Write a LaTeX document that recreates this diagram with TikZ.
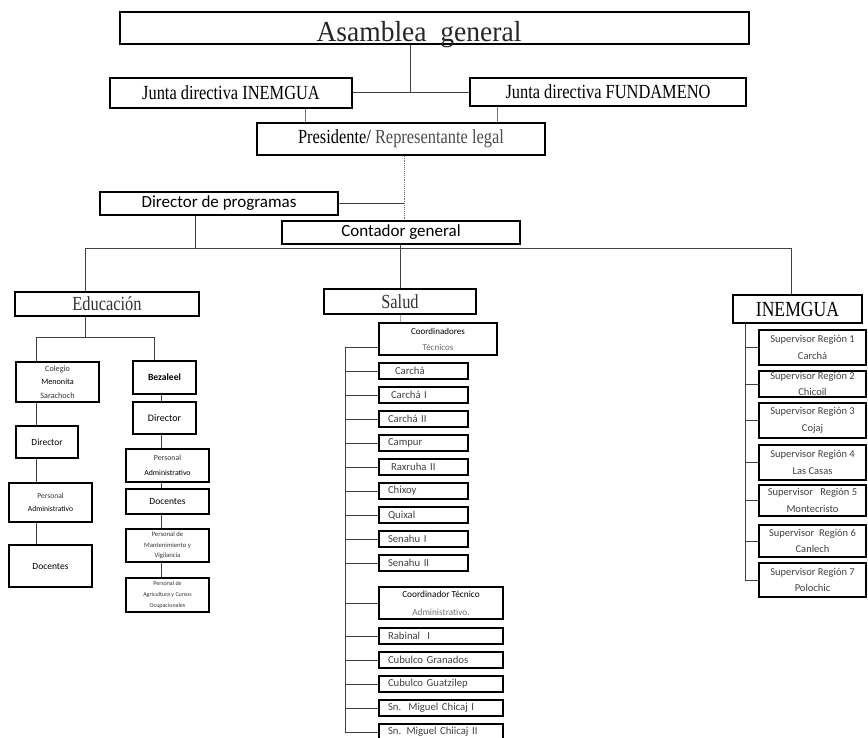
\documentclass[tikz,border=0pt]{standalone}
\usepackage{fontspec}
\setmainfont{Liberation Serif}
\newfontfamily\nserif[FakeStretch=0.82]{Liberation Serif}
\newfontfamily\wserif[FakeStretch=0.95]{Liberation Serif}
\newfontfamily\calib{Carlito}
\newcommand\sfz[2]{\fontsize{#1}{#2}\selectfont}
\tikzset{
 bx/.style={draw=black, line width=1.6pt, rectangle, inner sep=0pt, align=center},
 cn/.style={draw=black!75, line width=0.9pt},
 serifbox/.style={bx, font=\nserif\sfz{20}{22}},
 sansbox/.style={bx, font=\calib\sfz{17}{19}},
 ebox/.style={bx, line width=1.5pt, font=\calib\sfz{7.4}{10}, text=black!80},
 sb/.style={bx, line width=1.4pt, minimum height=16pt, minimum width=89pt, inner xsep=9pt, text width=71pt, align=left, font=\calib\sfz{10.7}{11}, text=black!75},
 lb/.style={sb, minimum width=124pt, text width=106pt},
 sup/.style={bx, line width=1.5pt, minimum width=107pt, font=\calib\sfz{10.5}{16.5}, text=black!75},
}
\begin{document}
\begin{tikzpicture}[x=1pt,y=-1pt]
\useasboundingbox (0,0) rectangle (868,738);
% ---------- top ----------
\node[bx, minimum width=629pt, minimum height=32pt] (asam) at (434.5,28) {};
\node[font=\wserif\sfz{29}{29}, inner sep=0pt, anchor=base, text=black!85] (asamt) at (419,42) {Asamblea\ \ general};
\node[serifbox, minimum width=242pt, minimum height=30pt] (ji) at (231,93) {Junta directiva INEMGUA};
\node[serifbox, minimum width=276pt, minimum height=28pt] (jf) at (608,92) {Junta directiva FUNDAMENO};
\node[serifbox, minimum width=288pt, minimum height=32pt] (pres) at (401,139) {Presidente/ {\color{black!70}Representante legal}};
\node[sansbox, minimum width=238pt, minimum height=23pt] (dir) at (219,203.5) {Director de programas};
\node[sansbox, minimum width=238pt, minimum height=23pt] (cont) at (401,232.5) {Contador general};
\node[serifbox, minimum width=184pt, minimum height=24pt, text=black!80] (edu) at (107,304) {Educación};
\node[serifbox, minimum width=152pt, minimum height=25pt, text=black!80] (salud) at (400,301.5) {Salud};
\node[serifbox, minimum width=129pt, minimum height=28pt, font=\nserif\sfz{21.5}{22}] (inem) at (797.5,309) {INEMGUA};
% connector coordinates
\coordinate (xa) at (410,0);
\coordinate (xb) at (305,0);
\coordinate (xc) at (497,0);
\coordinate (xd) at (404,0);
\coordinate (xe) at (195,0);
\coordinate (xf) at (400,0);
\coordinate (jn) at (410,92);
\coordinate (busL) at (85,248);
\coordinate (busR) at (791,248);
\draw[cn] (asam.south -| xa) -- (jn);
\draw[cn] (ji.east |- jn) -- (jf.west |- jn);
\draw[cn, black!55] (ji.south -| xb) -- (pres.north -| xb);
\draw[cn, black!55] (jf.south -| xc) -- (pres.north -| xc);
\draw[cn, black!55, densely dotted] (pres.south -| xd) -- (cont.north -| xd);
\draw[cn] (dir.east) -- (dir.east -| xd);
\draw[cn] (dir.south -| xe) -- (xe |- busL);
\draw[cn] (edu.north -| busL) -- (busL) -- (busR) -- (inem.north -| busR);
\draw[cn] (cont.south -| xf) -- (salud.north -| xf);
% ---------- Educacion ----------
\node[ebox, minimum width=83pt, minimum height=40pt, font=\calib\sfz{8.2}{13.5}] (col) at (57.5,382) {Colegio\\{\color{black}Menonita}\\Sarachoch};
\node[ebox, minimum width=63pt, minimum height=33pt, font=\calib\bfseries\sfz{9.6}{10}, text=black] (bez) at (164.5,377.5) {Bezaleel};
\node[ebox, minimum width=63pt, minimum height=32pt, font=\calib\sfz{10}{10}, text=black] (dirR) at (164.5,418) {Director};
\node[ebox, minimum width=83pt, minimum height=33pt, font=\calib\sfz{7.8}{15}] (paR) at (167.5,465.5) {Personal\\{\color{black}Administrativo}};
\node[ebox, minimum width=83pt, minimum height=25pt, font=\calib\sfz{9.5}{10}, text=black] (docR) at (167.5,501.5) {Docentes};
\node[ebox, minimum width=83pt, minimum height=33pt, font=\calib\sfz{6.7}{10.5}] (pmR) at (167.5,545.5) {Personal de\\Mantenimiento y\\Vigilancia};
\node[ebox, minimum width=83pt, minimum height=34pt, font=\calib\sfz{6}{11}] (pacR) at (167.5,595) {Personal de\\Agricultura y Cursos\\Ocupacionales};
\node[ebox, minimum width=62pt, minimum height=32pt, font=\calib\sfz{9.4}{10}, text=black] (dirL) at (47,442) {Director};
\node[ebox, minimum width=83pt, minimum height=39pt, font=\calib\sfz{7.6}{13}] (paL) at (50.5,502.5) {Personal\\{\color{black}Administrativo}};
\node[ebox, minimum width=83pt, minimum height=42pt, font=\calib\sfz{9.5}{10}, text=black] (docL) at (50.5,566) {Docentes};
\coordinate (eJ) at (85,337);
\coordinate (eL) at (36,337);
\coordinate (eR) at (154,337);
\coordinate (xl) at (36,0);
\coordinate (xr) at (161,0);
\draw[cn] (edu.south -| eJ) -- (eJ);
\draw[cn] (col.north -| eL) -- (eL) -- (eR) -- (bez.north -| eR);
\draw[cn] (col.south -| xl) -- (dirL.north -| xl);
\draw[cn] (dirL.south -| xl) -- (paL.north -| xl);
\draw[cn] (paL.south -| xl) -- (docL.north -| xl);
\draw[cn] (bez.south -| xr) -- (dirR.north -| xr);
\draw[cn] (dirR.south -| xr) -- (paR.north -| xr);
\draw[cn] (paR.south -| xr) -- (docR.north -| xr);
\draw[cn] (docR.south -| xr) -- (pmR.north -| xr);
\draw[cn] (pmR.south -| xr) -- (pacR.north -| xr);
% ---------- Salud ----------
\node[bx, line width=1.4pt, minimum width=118pt, minimum height=32pt, font=\calib\sfz{9}{16}] (coord) at (438,339) {Coordinadores\\{\color{black!60}Técnicos}};
\node[sb] (s1) at (423.5,371) {\hspace*{7pt}Carchá};
\node[sb] (s2) at (423.5,395) {\hspace*{3pt}Carchá I};
\node[sb] (s3) at (423.5,419) {Carchá II};
\node[sb] (s4) at (423.5,443) {Campur};
\node[sb] (s5) at (423.5,467) {\hspace*{3pt}Raxruha II};
\node[sb] (s6) at (423.5,491) {Chixoy};
\node[sb] (s7) at (423.5,515) {Quixal};
\node[sb] (s8) at (423.5,539) {Senahu I};
\node[sb] (s9) at (423.5,563) {Senahu II};
\node[bx, line width=1.4pt, minimum width=124pt, minimum height=32pt, font=\calib\sfz{9.3}{18}] (cta) at (441,603) {Coordinador Técnico\\{\color{black!55}Administrativo.}};
\node[lb] (t1) at (441,636) {Rabinal\ \ I};
\node[lb] (t2) at (441,660) {Cubulco Granados};
\node[lb] (t3) at (441,684) {Cubulco Guatzilep};
\node[lb] (t4) at (441,708) {Sn.\ \ Miguel Chicaj I};
\node[lb] (t5) at (441,732) {Sn. Miguel Chiicaj II};
\coordinate (sTop) at (345,347);
\coordinate (sBot) at (345,732);
\draw[cn, black!35, line width=0.6pt] (salud.south -| xf) -- (coord.north -| xf);
\draw[cn] (sBot) -- (sTop) -- (coord.west |- sTop);
\foreach \n in {s1,s2,s3,s4,s5,s6,s7,s8,s9,cta,t1,t2,t3,t4,t5}
  \draw[cn] (sBot |- \n.west) -- (\n.west);
% ---------- INEMGUA ----------
\node[sup, minimum height=35pt] (r1) at (812.5,347.5) {Supervisor Región 1\\Carchá};
\node[sup, minimum height=26pt, font=\calib\sfz{10.5}{16}] (r2) at (812.5,384) {Supervisor Región 2\\Chicoil};
\node[sup, minimum height=35pt] (r3) at (812.5,420.5) {Supervisor Región 3\\Cojaj};
\node[sup, minimum height=35pt] (r4) at (812.5,462.5) {Supervisor Región 4\\Las Casas};
\node[sup, minimum height=31pt] (r5) at (812.5,500.5) {Supervisor\ \ \ Región 5\\Montecristo};
\node[sup, minimum height=32pt] (r6) at (812.5,541) {Supervisor\ \ Región 6\\Canlech};
\node[sup, minimum height=34pt] (r7) at (812.5,580) {Supervisor Región 7\\Polochic};
\coordinate (iBot) at (745,580);
\draw[cn] (inem.south -| iBot) -- (iBot);
\foreach \n in {r1,r2,r3,r4,r5,r6,r7}
  \draw[cn] (iBot |- \n.west) -- (\n.west);
\end{tikzpicture}
\end{document}
